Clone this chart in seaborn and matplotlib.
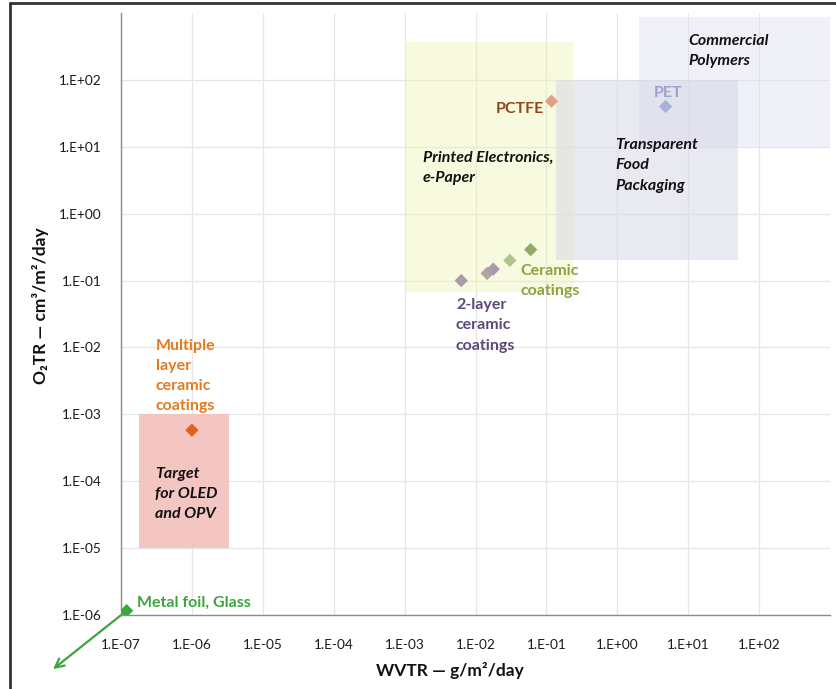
import numpy as np
import pandas as pd
import matplotlib
matplotlib.use("Agg")
import matplotlib.pyplot as plt
import seaborn as sns
from matplotlib.patches import Rectangle
from matplotlib.lines import Line2D
from matplotlib.ticker import FuncFormatter, LogLocator, FixedLocator

# --- data -------------------------------------------------------------
materials = ["Metal foil, Glass", "Multiple layer", "2-layer a", "2-layer b", "2-layer c",
             "Ceramic a", "Ceramic b", "PCTFE", "PET"]
wvtr = [1.2e-7, 1.0e-6, 0.0063, 0.0146, 0.0178, 0.0305, 0.060, 0.118, 4.8]
o2tr = [1.16e-6, 5.8e-4, 0.100, 0.128, 0.148, 0.20, 0.29, 48.0, 40.0]
point_colors = ["#3da43f", "#e2621c", "#a99ba9", "#b3a3a3", "#a99bae",
                "#aec48a", "#93a96a", "#dca283", "#a9b1da"]

# application regions: (wvtr_min, wvtr_max, o2tr_min, o2tr_max)
region_names = ["Commercial Polymers", "Printed Electronics", "Transparent Food Packaging", "OLED/OPV target"]
region_wvtr = [(2.0, 1.0e3), (1.0e-3, 0.24), (0.137, 50.0), (1.8e-7, 3.3e-6)]
region_o2tr = [(10.0, 880.0), (0.067, 370.0), (0.2, 100.0), (1.0e-5, 1.0e-3)]
region_colors = ["#dcdff0", "#eef4b8", "#d8d8e6", "#f3c3be"]
region_alpha = [0.45, 0.45, 0.55, 0.95]

x_ticks = [1e-7, 1e-6, 1e-5, 1e-4, 1e-3, 1e-2, 1e-1, 1e0, 1e1, 1e2]
y_ticks = [1e-6, 1e-5, 1e-4, 1e-3, 1e-2, 1e-1, 1e0, 1e1, 1e2]

df = pd.DataFrame({"material": materials, "wvtr": wvtr, "o2tr": o2tr})

# --- figure -----------------------------------------------------------
sns.set_style("white")
plt.rcParams["font.family"] = ["Lato", "DejaVu Sans"]

fig = plt.figure(figsize=(8.36, 6.89), dpi=100)
ax = fig.add_axes([121 / 836, 1 - 615 / 689, (830 - 121) / 836, (615 - 13) / 689])
ax.set_xscale("log")
ax.set_yscale("log")
ax.set_xlim(1e-7, 1e3)
ax.set_ylim(1e-6, 1e3)

for (x0, x1), (y0, y1), c, a in zip(region_wvtr, region_o2tr, region_colors, region_alpha):
    ax.add_patch(Rectangle((x0, y0), x1 - x0, y1 - y0, facecolor=c, edgecolor="none",
                           alpha=a, zorder=1))

sns.scatterplot(data=df, x="wvtr", y="o2tr", hue="material",
                palette=dict(zip(materials, point_colors)), marker="D", s=46,
                edgecolor="none", legend=False, ax=ax, zorder=4)

# grid, spines, ticks
ax.grid(True, which="major", color="#e6e6e6", lw=0.9)
ax.set_axisbelow(True)
for side in ("top", "right"):
    ax.spines[side].set_visible(False)
for side in ("left", "bottom"):
    ax.spines[side].set_color("#8c8c8c")
    ax.spines[side].set_linewidth(1.0)
    ax.spines[side].set_zorder(3)

ax.xaxis.set_major_locator(FixedLocator(x_ticks))
ax.yaxis.set_major_locator(FixedLocator(y_ticks))
ax.xaxis.set_minor_locator(LogLocator(base=10, subs=np.arange(2, 10), numticks=30))
ax.yaxis.set_minor_locator(LogLocator(base=10, subs=np.arange(2, 10), numticks=30))
fmt = FuncFormatter(lambda v, p: "1.E{:+03d}".format(int(round(np.log10(v)))))
ax.xaxis.set_major_formatter(fmt)
ax.yaxis.set_major_formatter(fmt)
ax.tick_params(which="major", direction="out", length=5, color="#8c8c8c",
               labelsize=9.8, labelcolor="#1a1a1a", pad=9)
ax.tick_params(which="minor", direction="in", length=3, color="#8c8c8c")
ax.tick_params(axis="x", which="major", pad=12)

ax.set_xlabel("WVTR — g/m²/day", fontsize=12.5, fontweight="bold", color="#111111")
ax.set_ylabel("O₂TR — cm³/m²/day", fontsize=12.5, fontweight="bold", color="#111111")
ax.xaxis.set_label_coords(0.464, -0.078)
ax.yaxis.set_label_coords(-0.102, 0.513)

# annotations
lab = dict(fontsize=11.5, fontweight="bold", linespacing=1.55, zorder=5)
ax.text(10.0, 270.0, "Commercial\nPolymers", ha="left", va="center", style="italic",
        color="#111111", **lab)
ax.text(5.2, 64.0, "PET", ha="center", va="center", color="#9ba2cc", **lab)
ax.text(0.0425, 36.7, "PCTFE", ha="center", va="center", color="#96441a", **lab)
ax.text(0.00182, 4.9, "Printed Electronics,\ne-Paper", ha="left", va="center",
        style="italic", color="#111111", **lab)
ax.text(0.93, 5.25, "Transparent\nFood\nPackaging", ha="left", va="center",
        style="italic", color="#111111", **lab)
ax.text(0.0425, 0.097, "Ceramic\ncoatings", ha="left", va="center", color="#8aa33e", **lab)
ax.text(0.0053, 0.0213, "2-layer\nceramic\ncoatings", ha="left", va="center",
        color="#5c4878", **lab)
ax.text(3.1e-7, 3.75e-3, "Multiple\nlayer\nceramic\ncoatings", ha="left", va="center",
        color="#e27a1e", **lab)
ax.text(3.0e-7, 6.45e-5, "Target\nfor OLED\nand OPV", ha="left", va="center",
        style="italic", color="#111111", **lab)
ax.text(1.68e-7, 1.5e-6, "Metal foil, Glass", ha="left", va="center", color="#3da43f", **lab)

ax.annotate("", xy=(1.1e-8, 1.55e-7), xytext=(wvtr[0], o2tr[0]), annotation_clip=False,
            arrowprops=dict(arrowstyle="->", color="#3da43f", lw=1.6,
                            mutation_scale=16, shrinkA=0, shrinkB=0))

# outer frame
fig.add_artist(Line2D([10 / 836, 10 / 836], [0, 1 - 3 / 689], transform=fig.transFigure,
                      color="#333333", lw=2))
fig.add_artist(Line2D([10 / 836, 1], [1 - 3 / 689, 1 - 3 / 689], transform=fig.transFigure,
                      color="#333333", lw=2))

fig.savefig("out.png", dpi=100, facecolor="white")
